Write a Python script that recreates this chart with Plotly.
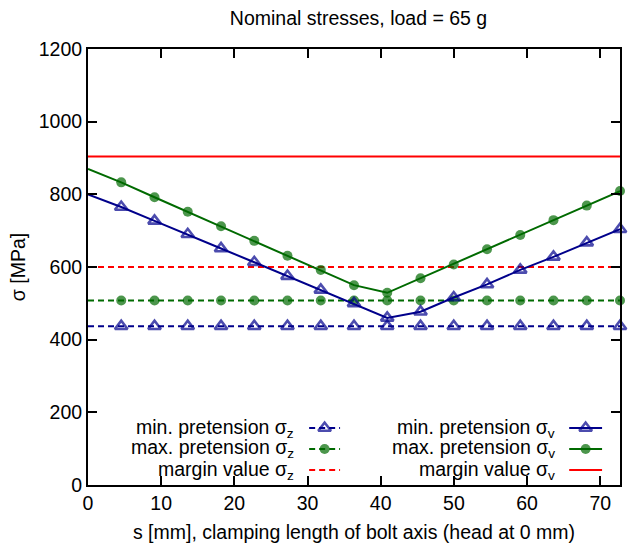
import plotly.graph_objects as go

# ---- data ----
s_mm = [0, 4.54, 9.09, 13.63, 18.18, 22.72, 27.26, 31.81, 36.35,
        40.89, 45.44, 49.98, 54.53, 59.07, 63.61, 68.16, 72.7]
sigma_v_min = [800, 765, 727, 690, 651, 613, 575, 537, 500,
               460, 477, 516, 552, 592, 628, 667, 704]
sigma_v_max = [870, 833, 792, 752, 712, 672, 631, 592, 550,
               529, 569, 607, 649, 688, 729, 769, 809]
sigma_z_min = [437] * len(s_mm)
sigma_z_max = [508] * len(s_mm)
margin_z = 600
margin_v = 904

x_ticks = [0, 10, 20, 30, 40, 50, 60, 70]
y_ticks = [0, 200, 400, 600, 800, 1000, 1200]

BLUE = "#00008B"
GREEN = "#006A00"
RED = "#FF0000"
FONT = "Liberation Sans, Arial, sans-serif"
FS = 19.5
DASH = "6px,4px"

TRI_SIZE = 11
CIRC_SIZE = 10
tri = dict(symbol="triangle-up-open", size=TRI_SIZE, color=BLUE, line=dict(width=2.6, color=BLUE))
circ = dict(symbol="circle", size=CIRC_SIZE, color=GREEN, line=dict(width=0))


def sizes(n, s):
    return [0] + [s] * (n - 1)


fig = go.Figure()
n = len(s_mm)
fig.add_trace(go.Scatter(x=s_mm, y=sigma_z_min, mode="lines+markers",
                         line=dict(color=BLUE, width=2, dash=DASH),
                         marker=dict(tri, size=sizes(n, TRI_SIZE)), cliponaxis=False))
fig.add_trace(go.Scatter(x=s_mm, y=sigma_z_max, mode="lines+markers",
                         line=dict(color=GREEN, width=2, dash=DASH),
                         marker=dict(circ, size=sizes(n, CIRC_SIZE)), cliponaxis=False))
fig.add_trace(go.Scatter(x=[s_mm[0], s_mm[-1]], y=[margin_z, margin_z], mode="lines",
                         line=dict(color=RED, width=2, dash=DASH)))
fig.add_trace(go.Scatter(x=s_mm, y=sigma_v_min, mode="lines+markers",
                         line=dict(color=BLUE, width=2),
                         marker=dict(tri, size=sizes(n, TRI_SIZE)), cliponaxis=False))
fig.add_trace(go.Scatter(x=s_mm, y=sigma_v_max, mode="lines+markers",
                         line=dict(color=GREEN, width=2),
                         marker=dict(circ, size=sizes(n, CIRC_SIZE)), cliponaxis=False))
fig.add_trace(go.Scatter(x=[s_mm[0], s_mm[-1]], y=[margin_v, margin_v], mode="lines",
                         line=dict(color=RED, width=2)))

# ---- gnuplot-style key (text right-aligned, sample to the right) ----
legend_entries = [
    ("min. pretension σ<sub>z</sub>", 0, 0, BLUE, DASH, tri),
    ("max. pretension σ<sub>z</sub>", 0, 1, GREEN, DASH, circ),
    ("margin value σ<sub>z</sub>", 0, 2, RED, DASH, None),
    ("min. pretension σ<sub>v</sub>", 1, 0, BLUE, "solid", tri),
    ("max. pretension σ<sub>v</sub>", 1, 1, GREEN, "solid", circ),
    ("margin value σ<sub>v</sub>", 1, 2, RED, "solid", None),
]
col_text_x = [0.391, 0.882]
col_sample = [(0.4157, 0.4738), (0.9045, 0.9663)]
row_y = [0.1307, 0.0826, 0.0344]

for text, c, r, color, dash, mk in legend_entries:
    y = row_y[r]
    x0, x1 = col_sample[c]
    fig.add_annotation(x=col_text_x[c], y=y, xref="paper", yref="paper",
                       text=text, showarrow=False, xanchor="right", yanchor="middle",
                       font=dict(family=FONT, size=FS, color="black"))
    if mk is None:
        fig.add_trace(go.Scatter(x=[x0, x1], y=[y, y], mode="lines", xaxis="x2", yaxis="y2",
                                 line=dict(color=color, width=2, dash=dash)))
    else:
        fig.add_trace(go.Scatter(x=[x0, (x0 + x1) / 2, x1], y=[y, y, y], mode="lines+markers",
                                 xaxis="x2", yaxis="y2",
                                 line=dict(color=color, width=2, dash=dash),
                                 marker=dict(mk, size=[0, mk["size"], 0]), cliponaxis=False))

axis_common = dict(showgrid=False, zeroline=False, showline=True, linecolor="black",
                   linewidth=2, mirror="ticks", ticks="inside", ticklen=9, tickwidth=2,
                   tickcolor="black", tickfont=dict(family=FONT, size=FS, color="black"))

fig.update_layout(
    width=629, height=550,
    margin=dict(l=88, r=7, t=49, b=65),
    plot_bgcolor="white", paper_bgcolor="white",
    showlegend=False,
    font=dict(family=FONT, size=FS, color="black"),
    title=dict(text="Nominal stresses, load = 65 g", x=0.57, xref="container",
               xanchor="center", y=1 - 18 / 550, yanchor="middle",
               font=dict(family=FONT, size=FS, color="black")),
    xaxis=dict(axis_common, range=[0, 72.7], tickvals=x_ticks,
               title=dict(text="s [mm], clamping length of bolt axis (head at 0 mm)",
                          standoff=12, font=dict(family=FONT, size=FS))),
    yaxis=dict(axis_common, range=[0, 1200], tickvals=y_ticks,
               title=dict(text="σ [MPa]", standoff=8, font=dict(family=FONT, size=FS))),
    xaxis2=dict(overlaying="x", range=[0, 1], visible=False, fixedrange=True),
    yaxis2=dict(overlaying="y", range=[0, 1], visible=False, fixedrange=True),
)

fig.write_html("out.html")
